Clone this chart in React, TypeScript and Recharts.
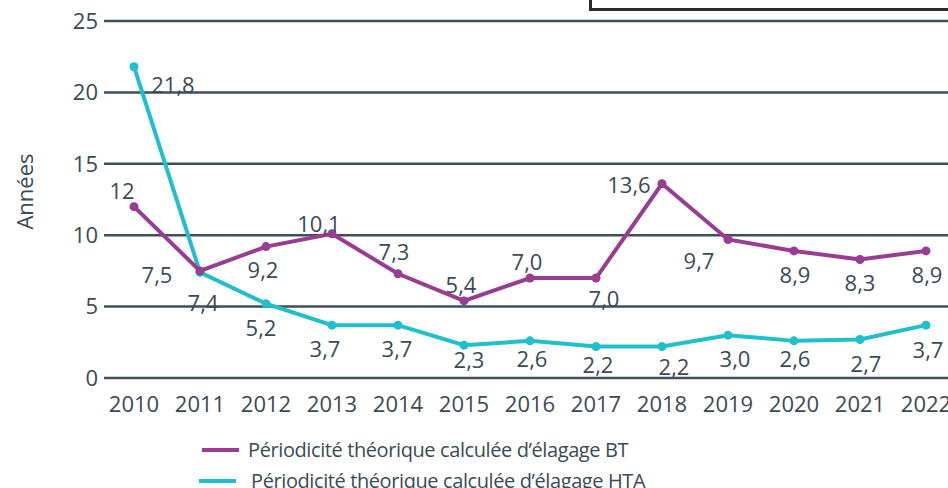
import { LineChart, Line, XAxis, YAxis, CartesianGrid, LabelList } from 'recharts'

const years = [2010, 2011, 2012, 2013, 2014, 2015, 2016, 2017, 2018, 2019, 2020, 2021, 2022]
const btValues = [12, 7.5, 9.2, 10.1, 7.3, 5.4, 7.0, 7.0, 13.6, 9.7, 8.9, 8.3, 8.9]
const htaValues = [21.8, 7.4, 5.2, 3.7, 3.7, 2.3, 2.6, 2.2, 2.2, 3.0, 2.6, 2.7, 3.7]
const btLabels = ['12', '7,5', '9,2', '10,1', '7,3', '5,4', '7,0', '7,0', '13,6', '9,7', '8,9', '8,3', '8,9']
const htaLabels = ['21,8', '7,4', '5,2', '3,7', '3,7', '2,3', '2,6', '2,2', '2,2', '3,0', '2,6', '2,7', '3,7']
const yTicks = [0, 5, 10, 15, 20, 25]
const seriesNames = ['Périodicité théorique calculée d’élagage BT', 'Périodicité théorique calculée d’élagage HTA']

const BT_COLOR = '#983d92'
const HTA_COLOR = '#20bfcc'
const TEXT = '#3b4a55'
const GRID = '#3f4f59'
const FONT = '"Open Sans", sans-serif'

const data = years.map((year, i) => ({
    year,
    bt: btValues[i],
    hta: htaValues[i],
    btLabel: btLabels[i],
    htaLabel: htaLabels[i],
}))

// label placement around each point (dx, dy), hand-tuned like the original
const btOffsets = [[-12, -17], [-43, 3], [-3, 22], [-13, -11], [-4, -23], [-3, -17], [-3, -17], [8, 20], [-33, 0], [-29, 21], [1, 23], [0, 23], [1, 23]]
const htaOffsets = [[39, 17], [3, 30], [-5, 23], [-7, 23], [-1, 23], [5, 14], [2, 17], [2, 17], [12, 19], [7, 23], [1, 17], [6, 24], [2, 24]]

const makeLabel = (offsets: number[][]) => (props: any) => {
    const { x, y, value, index } = props
    const [dx, dy] = offsets[index] || [0, -15]
    return (
        <text x={x + dx} y={y + dy} textAnchor="middle" dominantBaseline="central" fill={TEXT} fontSize={22} fontFamily={FONT}>
            {value}
        </text>
    )
}

const YTitle = (props: any) => {
    const vb = props.viewBox
    const x = vb.x + 24
    const y = vb.y + vb.height / 2 - 8
    return (
        <text x={x} y={y} transform={`rotate(-90 ${x} ${y})`} textAnchor="middle" dominantBaseline="central" fill={TEXT} fontSize={22} fontFamily={FONT}>
            Années
        </text>
    )
}

export default function App() {
    const legendRows = [
        { name: seriesNames[0], color: BT_COLOR, sx: 202, tx: 248, cy: 450 },
        { name: seriesNames[1], color: HTA_COLOR, sx: 199, tx: 251, cy: 481 },
    ]
    return (
        <div style={{ position: 'absolute', left: 0, top: 0, width: 948, height: 488, overflow: 'hidden', background: '#fff', fontFamily: FONT }}>
            <LineChart width={990} height={420} data={data} margin={{ top: 21, right: 0, bottom: 12, left: 0 }}>
                <CartesianGrid vertical={false} stroke={GRID} strokeWidth={2.5} />
                <XAxis
                    dataKey="year"
                    type="number"
                    domain={[2009.5455, 2022.97]}
                    ticks={years}
                    interval={0}
                    height={30}
                    axisLine={false}
                    tickLine={false}
                    tickMargin={12}
                    tick={{ fill: TEXT, fontSize: 22, fontFamily: FONT }}
                />
                <YAxis
                    domain={[0, 25]}
                    ticks={yTicks}
                    width={104}
                    axisLine={false}
                    tickLine={false}
                    tickSize={4}
                    tickMargin={2}
                    tick={{ fill: TEXT, fontSize: 22, fontFamily: FONT }}
                    label={YTitle}
                />
                <Line dataKey="hta" stroke={HTA_COLOR} strokeWidth={4} dot={{ r: 4.5, fill: HTA_COLOR, stroke: 'none' }} activeDot={false} isAnimationActive={false}>
                    <LabelList dataKey="htaLabel" content={makeLabel(htaOffsets)} />
                </Line>
                <Line dataKey="bt" stroke={BT_COLOR} strokeWidth={4} dot={{ r: 4.5, fill: BT_COLOR, stroke: 'none' }} activeDot={false} isAnimationActive={false}>
                    <LabelList dataKey="btLabel" content={makeLabel(btOffsets)} />
                </Line>
            </LineChart>
            <div style={{ position: 'absolute', left: 589, top: -30, width: 420, height: 41, border: '3.5px solid #2b2b2b', boxSizing: 'border-box', background: '#fff' }} />
            {legendRows.map((row) => (
                <div key={row.name}>
                    <div style={{ position: 'absolute', left: row.sx, top: row.cy - 2, width: 37, height: 4, background: row.color }} />
                    <div style={{ position: 'absolute', left: row.tx, top: row.cy - 14, lineHeight: '28px', fontSize: 20, letterSpacing: -0.4, color: TEXT, whiteSpace: 'nowrap' }}>
                        {row.name}
                    </div>
                </div>
            ))}
        </div>
    )
}
